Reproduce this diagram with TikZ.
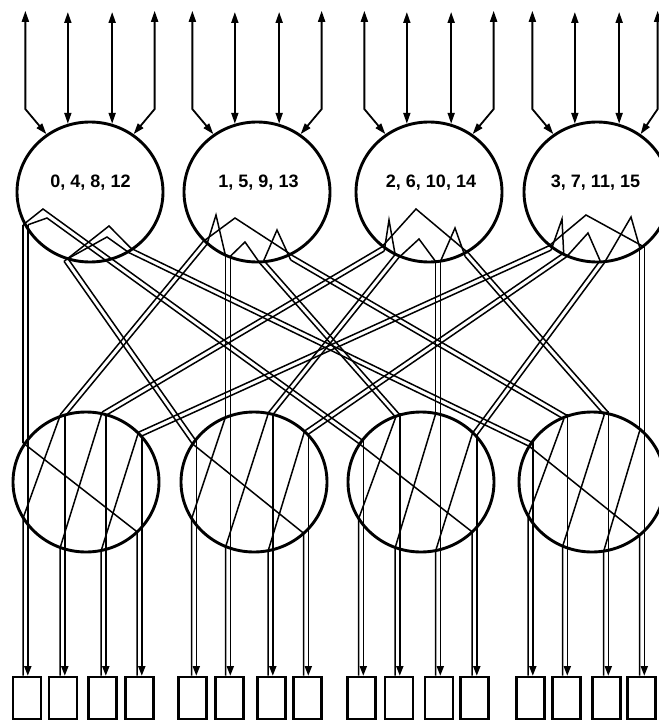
\documentclass[tikz,border=0pt]{standalone}
\usepackage{fontspec}
\setmainfont{Liberation Sans}
\usetikzlibrary{shapes.geometric,arrows.meta,calc}
\newcommand{\mkpipe}[1]{%
  \coordinate (p#1R0) at ($(S#1)!2.4pt!90:(E#1)$);
  \coordinate (p#1L0) at ($(S#1)!2.4pt!-90:(E#1)$);
  \coordinate (p#1R1) at ($(E#1)!2.4pt!-90:(S#1)$);
  \coordinate (p#1L1) at ($(E#1)!2.4pt!90:(S#1)$);
  \draw[wire] (p#1R0) -- (p#1R1);
  \draw[wire] (p#1L0) -- (p#1L1);}
\begin{document}
\begin{tikzpicture}[x=1pt,y=-1pt,
  ring/.style={draw, ellipse, minimum width=146pt, minimum height=140pt, line width=2.9pt, inner sep=0pt},
  wire/.style={line width=1.5pt, line join=miter},
  feed/.style={line width=1.8pt, {Triangle[length=11pt,width=7pt]}-{Triangle[length=11pt,width=7pt]}},
  cell/.style={draw, rectangle, minimum width=28pt, minimum height=42pt, line width=2.6pt, inner sep=0pt},
  tip/.style={-{Triangle[length=9.5pt,width=7pt]}},
  lab/.style={font=\bfseries\fontsize{18}{20}\selectfont, inner sep=0pt}]
\useasboundingbox (0,0) rectangle (658,722);

% stage circles
\node[ring] (T1) at (90,192) {};
\node[ring] (T2) at (257,192) {};
\node[ring] (T3) at (429,192) {};
\node[ring] (T4) at (597,192) {};
\node[ring] (B1) at (86,482) {};
\node[ring] (B2) at (254,482) {};
\node[ring] (B3) at (421,482) {};
\node[ring] (B4) at (592,482) {};
\node[lab] (L1) at (90.5,183) {0, 4, 8, 12};
\node[lab] (L2) at (258.5,183) {1, 5, 9, 13};
\node[lab] (L3) at (431,183) {2, 6, 10, 14};
\node[lab] (L4) at (595.5,183) {3, 7, 11, 15};

% top feed arrows
\coordinate (top) at (0,12);
\foreach \t in {1,2,3} {
  \draw[feed] (T\t.108) -- (T\t.108 |- top);
  \draw[feed] (T\t.72) -- (T\t.72 |- top);
  \draw[feed] (T\t.127) -- ++(-21,-25) -- ++(0,-98.3);
  \draw[feed] (T\t.53) -- ++(21,-25) -- ++(0,-98.3);
}
\draw[feed] (T4.108) -- (T4.108 |- top);
\draw[feed] (T4.72) -- (T4.72 |- top);
\draw[feed] (T4.127) -- ++(-21,-25) -- ++(0,-98.3);
\draw[feed] (T4.53) -- ++(17,-25) -- ++(0,-98.3);

% pipe start points on upper circles
\coordinate (S11) at (25.5,224.8);
\coordinate (S12) at (66,260);
\coordinate (S13) at (108.8,259.7);
\coordinate (S14) at (130,250.5);
\coordinate (S21) at (205,243);
\coordinate (S22) at (228,256.2);
\coordinate (S23) at (262,262);
\coordinate (S24) at (292,258);
\coordinate (S31) at (383,249);
\coordinate (S32) at (397,256);
\coordinate (S33) at (438,261.5);
\coordinate (S34) at (467,255);
\coordinate (S41) at (550,248);
\coordinate (S42) at (565,255);
\coordinate (S43) at (602,262);
\coordinate (S44) at (642,247.1);
% pipe end points on lower circles
\coordinate (E11) at (25.5,442.9);
\coordinate (E21) at (62.5,415.7);
\coordinate (E31) at (103.5,414.0);
\coordinate (E41) at (139.5,434.4);
\coordinate (E12) at (194,442.1);
\coordinate (E22) at (228,416.6);
\coordinate (E32) at (270.5,413.8);
\coordinate (E42) at (306,432.9);
\coordinate (E13) at (361,442.1);
\coordinate (E23) at (397.5,415.7);
\coordinate (E33) at (438,413.9);
\coordinate (E43) at (474.5,434.4);
\coordinate (E14) at (530.5,444.3);
\coordinate (E24) at (565,417);
\coordinate (E34) at (606,413.3);
\coordinate (E44) at (642,431);

\foreach \i in {1,...,4} { \foreach \j in {1,...,4} { \mkpipe{\i\j} } }

% turning points inside the upper circles
\coordinate (A1o) at (43,209);  \coordinate (A1i) at (47,218);
\coordinate (A1p) at (109,226); \coordinate (A1q) at (107,237);
\draw[wire] (p11L0) -- (A1o) -- (p13R0);
\draw[wire] (p11R0) -- (A1i) -- (p13L0);
\draw[wire] (p12L0) -- (A1p) -- (p14R0);
\draw[wire] (p12R0) -- (A1q) -- (p14L0);

\coordinate (A2a) at (216,215); \coordinate (A2b) at (235,218);
\coordinate (A2c) at (245,242); \coordinate (A2d) at (277,230);
\draw[wire] (p21R0) -- (A2a) -- (p22L0);
\draw[wire] (p21L0) -- (A2b) -- (p24R0);
\draw[wire] (p22R0) -- (A2c) -- (p23L0);
\draw[wire] (p23R0) -- (A2d) -- (p24L0);

\coordinate (A3a) at (389,220); \coordinate (A3b) at (416,209);
\coordinate (A3c) at (419,239); \coordinate (A3d) at (455,228);
\draw[wire] (p31R0) -- (A3a) -- (p32L0);
\draw[wire] (p31L0) -- (A3b) -- (p34R0);
\draw[wire] (p32R0) -- (A3c) -- (p33L0);
\draw[wire] (p33R0) -- (A3d) -- (p34L0);

\coordinate (A4a) at (562,219); \coordinate (A4b) at (586,215);
\coordinate (A4c) at (588,233); \coordinate (A4d) at (631,217);
\draw[wire] (p41R0) -- (A4a) -- (p42L0);
\draw[wire] (p41L0) -- (A4b) -- (p44R0);
\draw[wire] (p42R0) -- (A4c) -- (p43L0);
\draw[wire] (p43R0) -- (A4d) -- (p44L0);

% output cells
\foreach \j/\xa/\xb/\xc/\xd in {1/27/63/102.5/139.5, 2/192.5/229.5/271.5/307.5, 3/361.5/399/439/474.5, 4/530.5/566.5/606.5/641.5} {
  \node[cell] (bx\j1) at (\xa,698) {};
  \node[cell] (bx\j2) at (\xb,698) {};
  \node[cell] (bx\j3) at (\xc,698) {};
  \node[cell] (bx\j4) at (\xd,698) {};
}
% chord ends on lower circles
\coordinate (C11) at (23.2,517.7);  \coordinate (C12) at (60.2,547.5);
\coordinate (C13) at (101.2,550.5); \coordinate (C14) at (137.2,531.9);
\coordinate (C21) at (191.7,518.5); \coordinate (C22) at (225.7,546.5);
\coordinate (C23) at (268.2,550.7); \coordinate (C24) at (303.7,533.3);
\coordinate (C31) at (358.7,518.5); \coordinate (C32) at (395.2,547.5);
\coordinate (C33) at (435.7,550.6); \coordinate (C34) at (472.2,531.9);
\coordinate (C41) at (528.2,516);   \coordinate (C42) at (562.7,546.1);
\coordinate (C43) at (603.7,551.1); \coordinate (C44) at (639.7,535);
% right-hand line positions
\foreach \j/\xa/\xb/\xc/\xd in {1/27.8/64.8/105.8/141.8, 2/196.3/230.3/272.8/308.3, 3/363.3/399.8/440.3/476.8, 4/532.8/567.3/608.3/644.3} {
  \coordinate (XR\j1) at (\xa,0);
  \coordinate (XR\j2) at (\xb,0);
  \coordinate (XR\j3) at (\xc,0);
  \coordinate (XR\j4) at (\xd,0);
}
\foreach \j in {1,...,4} {
  \foreach \k/\m in {1/2,2/3,3/4,4/1} {
    \draw[wire] (p\m\j L1) -- (C\j\k) -- (C\j\k |- bx\j\k.north);
    \draw[wire,tip] (p\k\j R1) -- (XR\j\k |- p\k\j R1) -- (XR\j\k |- bx\j\k.north);
  }
}
\end{tikzpicture}
\end{document}
